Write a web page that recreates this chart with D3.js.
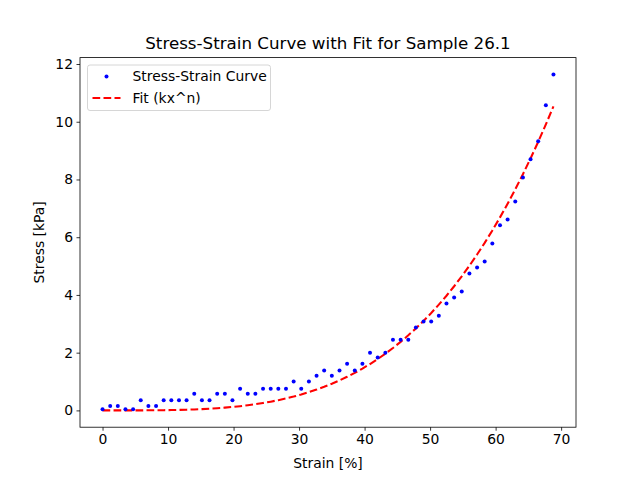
<!DOCTYPE html>
<html>
<head>
<meta charset="UTF-8">
<script src="https://d3js.org/d3.v7.min.js"></script>
<style>
  body { margin: 0; background: white; }
  svg { display: block; font-family: "DejaVu Sans", sans-serif; }
</style>
</head>
<body>
<script>
  // strain [%]
  const strain = [0, 1.17, 2.33, 3.5, 4.67, 5.83, 7, 8.17, 9.33, 10.5,
    11.67, 12.83, 14, 15.17, 16.33, 17.5, 18.67, 19.83, 21, 22.17,
    23.33, 24.5, 25.67, 26.83, 28, 29.17, 30.33, 31.5, 32.67, 33.83,
    35, 36.17, 37.33, 38.5, 39.67, 40.83, 42, 43.17, 44.33, 45.5,
    46.67, 47.83, 49, 50.17, 51.33, 52.5, 53.67, 54.83, 56, 57.17,
    58.33, 59.5, 60.67, 61.83, 63, 64.17, 65.33, 66.5, 67.67, 68.83];
  // stress [kPa]
  const stress = [0.04, 0.15, 0.15, 0.04, 0.04, 0.35, 0.15, 0.15, 0.35, 0.35,
    0.35, 0.35, 0.58, 0.35, 0.35, 0.58, 0.58, 0.35, 0.75, 0.58,
    0.58, 0.75, 0.75, 0.75, 0.75, 1.0, 0.75, 1.0, 1.2, 1.38,
    1.2, 1.38, 1.62, 1.38, 1.62, 2.0, 1.83, 2.0, 2.45, 2.45,
    2.45, 2.87, 3.08, 3.08, 3.28, 3.7, 3.91, 4.12, 4.74, 4.95,
    5.16, 5.78, 6.41, 6.61, 7.24, 8.07, 8.7, 9.32, 10.57, 11.64];
  // fit parameters for kx^n
  const fitK = 2.55e-6;
  const fitN = 3.6;
  const xTicks = [0, 10, 20, 30, 40, 50, 60, 70];
  const yTicks = [0, 2, 4, 6, 8, 10, 12];

  const W = 640, H = 480;
  const m = { left: 80, right: 576, top: 57.6, bottom: 427.2 };

  const svg = d3.select("body").append("svg").attr("width", W).attr("height", H);

  const x = d3.scaleLinear().domain([-3.44, 72.27]).range([m.left, m.right]);
  const y = d3.scaleLinear().domain([-0.582, 12.222]).range([m.bottom, m.top]);

  const fit = strain.map(s => fitK * Math.pow(s, fitN));

  // axes
  const xAxis = svg.append("g").attr("transform", `translate(0,${m.bottom})`)
    .call(d3.axisBottom(x).tickValues(xTicks).tickSize(3.5).tickPadding(3.5).tickFormat(d3.format("d")));
  const yAxis = svg.append("g").attr("transform", `translate(${m.left},0)`)
    .call(d3.axisLeft(y).tickValues(yTicks).tickSize(3.5).tickPadding(3.5).tickFormat(d3.format("d")));
  [xAxis, yAxis].forEach(a => {
    a.select(".domain").remove();
    a.selectAll("text").attr("font-size", 13.9).attr("fill", "#000").style("font-family", "DejaVu Sans");
    a.selectAll("line").attr("stroke", "#000").attr("stroke-width", 0.8);
  });

  svg.append("rect").attr("x", m.left).attr("y", m.top)
    .attr("width", m.right - m.left).attr("height", m.bottom - m.top)
    .attr("fill", "none").attr("stroke", "#000").attr("stroke-width", 0.8);

  // fit line
  svg.append("path")
    .datum(strain.map((s, i) => [s, fit[i]]))
    .attr("fill", "none").attr("stroke", "red").attr("stroke-width", 2.08)
    .attr("stroke-dasharray", "7.7,3.3")
    .attr("d", d3.line().x(d => x(d[0])).y(d => y(d[1])));

  // data points
  svg.append("g").selectAll("circle")
    .data(strain.map((s, i) => [s, stress[i]]))
    .join("circle")
    .attr("cx", d => x(d[0])).attr("cy", d => y(d[1]))
    .attr("r", 2.0).attr("fill", "blue");

  // title and labels
  svg.append("text").attr("x", (m.left + m.right) / 2).attr("y", 49)
    .attr("text-anchor", "middle").attr("font-size", 16.7)
    .text("Stress-Strain Curve with Fit for Sample 26.1");
  svg.append("text").attr("x", (m.left + m.right) / 2).attr("y", 468)
    .attr("text-anchor", "middle").attr("font-size", 13.9).text("Strain [%]");
  svg.append("text").attr("transform", `translate(44,${(m.top + m.bottom) / 2}) rotate(-90)`)
    .attr("text-anchor", "middle").attr("font-size", 13.9).text("Stress [kPa]");

  // legend
  const lg = svg.append("g").attr("transform", "translate(87.5,65)");
  lg.append("rect").attr("width", 183).attr("height", 45.5).attr("rx", 2.5)
    .attr("fill", "white").attr("fill-opacity", 0.8).attr("stroke", "#ccc").attr("stroke-width", 0.8);
  lg.append("circle").attr("cx", 19).attr("cy", 11.5).attr("r", 2.0).attr("fill", "blue");
  lg.append("text").attr("x", 45).attr("y", 16.3).attr("font-size", 13.9).text("Stress-Strain Curve");
  lg.append("line").attr("x1", 5).attr("x2", 33).attr("y1", 33).attr("y2", 33)
    .attr("stroke", "red").attr("stroke-width", 2.08).attr("stroke-dasharray", "7.7,3.3");
  lg.append("text").attr("x", 45).attr("y", 38).attr("font-size", 13.9).text("Fit (kx^n)");
</script>
</body>
</html>
